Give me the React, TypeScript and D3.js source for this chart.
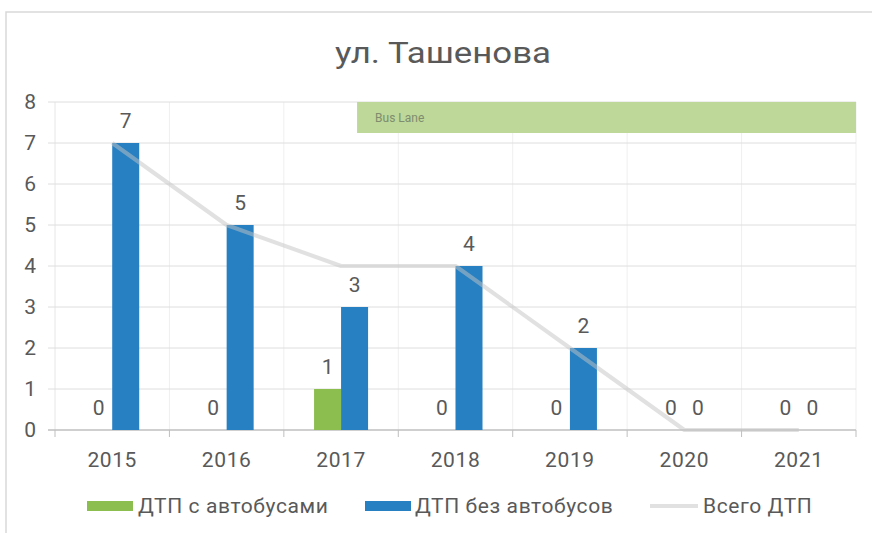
import * as d3 from "d3";

const years = ["2015", "2016", "2017", "2018", "2019", "2020", "2021"];
const withBuses = [0, 0, 1, 0, 0, 0, 0];
const withoutBuses = [7, 5, 3, 4, 2, 0, 0];
const totals = [7, 5, 4, 4, 2, 0, 0];
const yTicks = [0, 1, 2, 3, 4, 5, 6, 7, 8];

const W = 872;
const H = 533;
const margin = { top: 102, right: 16, bottom: 103, left: 55 };
const font = "Roboto, 'Open Sans', sans-serif";
const textColor = "#595959";
const green = "#8bbd4f";
const blue = "#2680c2";
const fs = 21;
const ls = 0.6;

export default function App() {
  const x = d3
    .scaleBand<string>()
    .domain(years)
    .range([margin.left, W - margin.right]);
  const y = d3
    .scaleLinear()
    .domain([0, 8])
    .range([H - margin.bottom, margin.top]);
  const barW = 27;
  const cx = (yr: string) => (x(yr) as number) + x.bandwidth() / 2;

  const line = d3
    .line<number>()
    .x((_, i) => cx(years[i]))
    .y((d) => y(d));

  // bus lane band starts between 2017 and 2018
  const laneStart = cx("2017") + 16;

  return (
    <svg
      width={W}
      height={H}
      style={{ position: "absolute", left: 0, top: 0, background: "#fff" }}
      fontFamily={font}
    >
      <rect x={6} y={12} width={W} height={H} fill="none" stroke="#d9d9d9" strokeWidth={1.5} />
      <text x={443} y={63} textAnchor="middle" fontSize={29} fill={textColor} textLength={216} lengthAdjust="spacingAndGlyphs">
        ул. Ташенова
      </text>

      {/* vertical grid */}
      {years.map((yr) => (
        <line
          key={"v" + yr}
          x1={(x(yr) as number) + x.bandwidth()}
          x2={(x(yr) as number) + x.bandwidth()}
          y1={y(8)}
          y2={y(0)}
          stroke="#efefef"
        />
      ))}
      <line x1={margin.left} x2={margin.left} y1={y(8)} y2={y(0)} stroke="#e6e6e6" />

      {/* horizontal grid + y labels */}
      {yTicks.map((t) => (
        <g key={"h" + t}>
          <line x1={48} x2={W - margin.right} y1={y(t)} y2={y(t)} stroke={t === 0 ? "#bfbfbf" : "#dedede"} strokeWidth={t === 0 ? 1.5 : 1} />
          <text x={36} y={y(t)} dy="0.35em" textAnchor="end" fontSize={fs} fill={textColor}>
            {t}
          </text>
        </g>
      ))}

      {/* bus lane */}
      <rect x={laneStart} y={y(8)} width={W - margin.right - laneStart} height={31} fill="#bdd898" />
      <text x={laneStart + 18} y={y(8) + 16} dy="0.35em" fontSize={12} fill="#7f8c6f">
        Bus Lane
      </text>

      {/* x axis ticks */}
      {[margin.left, ...years.map((yr) => (x(yr) as number) + x.bandwidth())].map((px, i) => (
        <line key={"t" + i} x1={px} x2={px} y1={y(0)} y2={y(0) + 7} stroke="#bfbfbf" />
      ))}
      {years.map((yr) => (
        <text key={"x" + yr} x={cx(yr)} y={460} dy="0.35em" textAnchor="middle" fontSize={fs} letterSpacing={ls} fill={textColor}>
          {yr}
        </text>
      ))}

      {/* bars */}
      {withBuses.map((v, i) => (
        <rect key={"g" + i} x={cx(years[i]) - barW} y={y(v)} width={barW} height={y(0) - y(v)} fill={green} />
      ))}
      {withoutBuses.map((v, i) => (
        <rect key={"b" + i} x={cx(years[i])} y={y(v)} width={barW} height={y(0) - y(v)} fill={blue} />
      ))}

      {/* total line */}
      <path d={line(totals) ?? ""} fill="none" stroke="#c4c4c4" strokeOpacity={0.5} strokeWidth={4} strokeLinejoin="round" />

      {/* labels */}
      {withBuses.map((v, i) => (
        <text key={"lg" + i} x={cx(years[i]) - barW / 2} y={y(v) - 22} dy="0.35em" textAnchor="middle" fontSize={fs} fill={textColor}>
          {v}
        </text>
      ))}
      {withoutBuses.map((v, i) => (
        <text key={"lb" + i} x={cx(years[i]) + barW / 2} y={y(v) - 22} dy="0.35em" textAnchor="middle" fontSize={fs} fill={textColor}>
          {v}
        </text>
      ))}

      {/* legend */}
      <g fontSize={fs} fill={textColor} letterSpacing={ls}>
        <rect x={87} y={501} width={46} height={10} fill={green} />
        <text x={138} y={506} dy="0.35em">ДТП с автобусами</text>
        <rect x={365} y={501} width={46} height={10} fill={blue} />
        <text x={415} y={506} dy="0.35em">ДТП без автобусов</text>
        <line x1={650} x2={698} y1={506} y2={506} stroke="#c4c4c4" strokeOpacity={0.5} strokeWidth={4} />
        <text x={703} y={506} dy="0.35em">Всего ДТП</text>
      </g>
    </svg>
  );
}
